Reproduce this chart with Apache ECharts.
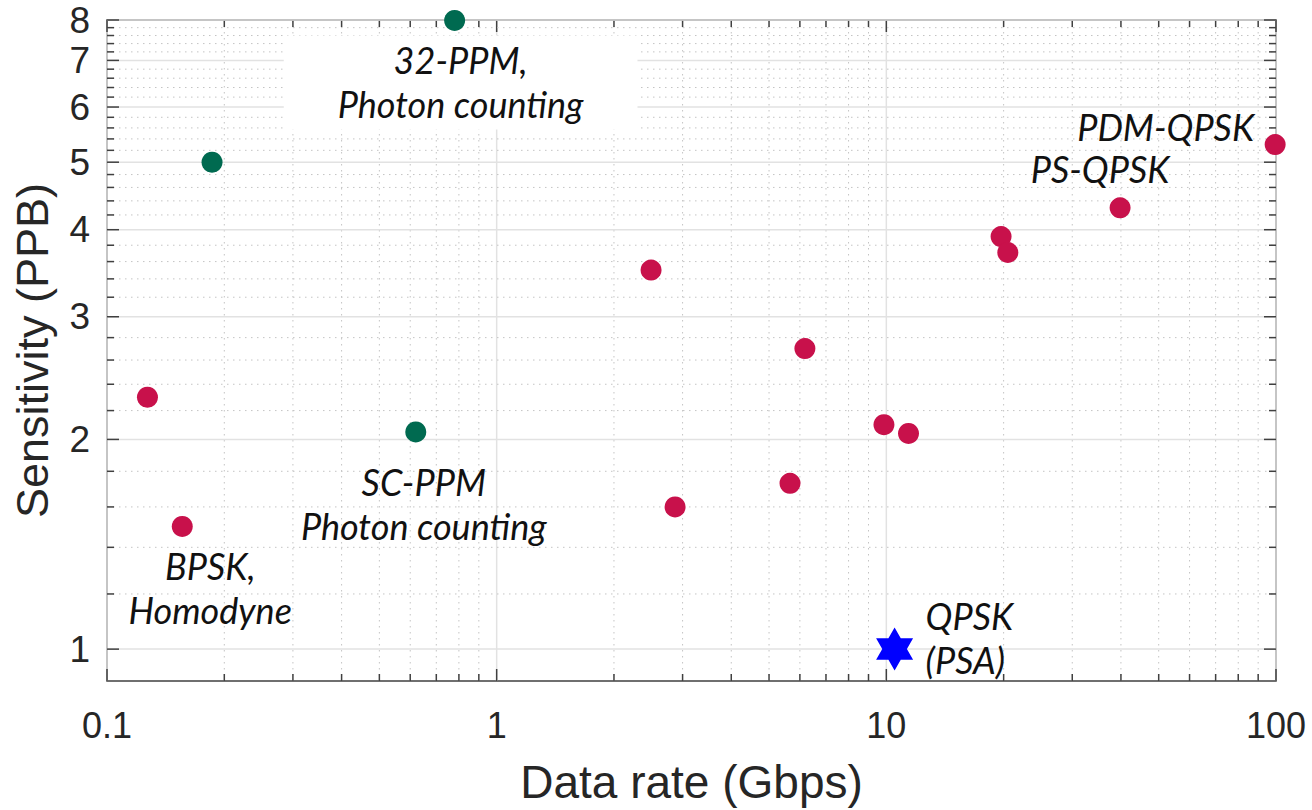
<!DOCTYPE html>
<html>
<head>
<meta charset="utf-8">
<script src="https://cdn.jsdelivr.net/npm/echarts@6/dist/echarts.min.js"></script>
<style>
  html, body { margin: 0; padding: 0; background: #fff; }
  #main { width: 1312px; height: 810px; }
</style>
</head>
<body>
<div id="main"></div>
<script>
// photon counting receivers (green)
var photonRate = [0.78, 0.186, 0.62];
var photonSens = [7.99, 5.0, 2.05];
var photonText = ['32-PPM,\nPhoton counting', '', 'SC-PPM\nPhoton counting'];

// coherent receivers (red)
var coherentRate = [0.127, 0.156, 2.49, 2.87, 5.66, 6.18, 9.86, 11.4, 19.7, 20.5, 39.8, 99.5];
var coherentSens = [2.3, 1.5, 3.5, 1.6, 1.73, 2.7, 2.1, 2.04, 3.91, 3.71, 4.3, 5.3];
var coherentText = ['', 'BPSK,\nHomodyne', '', '', '', '', '', '', '', '', 'PS-QPSK', 'PDM-QPSK'];

// phase sensitive amplifier result (blue star)
var psaRate = [10.5];
var psaSens = [1.0];
var psaText = ['QPSK\n(PSA)'];

// axes
var xRange = [0.1, 100];
var yRange = [0.9, 8];
var xTicks = [0.1, 1, 10, 100];
var yTicks = [1, 2, 3, 4, 5, 6, 7, 8];

// minor ticks: 2..9 per decade on x, 0.2 steps on y
var xMinor = [];
[0.1, 1, 10].forEach(function (d) {
    for (var k = 2; k <= 9; k++) xMinor.push(Number((k * d).toPrecision(3)));
});
var yMinor = [];
for (var i = 6; i < 40; i++) {
    if (i % 5 !== 0) yMinor.push(i / 5);
}

// where each annotation sits relative to its marker
var labelPlace = {
    '32-PPM,\nPhoton counting': { offset: [6, 62], align: 'center', backgroundColor: '#fff', padding: [4, 54, 2, 54] },
    'SC-PPM\nPhoton counting': { offset: [8, 72], align: 'center' },
    'BPSK,\nHomodyne': { offset: [28, 62], align: 'center' },
    'PS-QPSK': { offset: [-20, -39], align: 'center' },
    'PDM-QPSK': { offset: [-21, -18], align: 'right' },
    'QPSK\n(PSA)': { offset: [31, -11], align: 'left' }
};

var textFont = 'Liberation Sans, Arial, sans-serif';
var noteFont = 'Lato, Open Sans, sans-serif';

function points(xs, ys, texts) {
    return xs.map(function (x, i) {
        var item = { value: [x, ys[i]] };
        var p = labelPlace[texts[i]];
        if (p) {
            item.label = {
                show: true,
                formatter: texts[i],
                position: 'inside',
                offset: p.offset,
                align: p.align,
                verticalAlign: 'middle',
                color: '#111',
                fontFamily: noteFont,
                fontStyle: 'italic',
                fontSize: 36,
                lineHeight: 44,
                backgroundColor: p.backgroundColor || 'transparent',
                padding: p.padding || 0
            };
        }
        return item;
    });
}

// grid decoration rows: [x, y, axis(0=x,1=y), major]
var tickRows = [];
xTicks.forEach(function (v) { tickRows.push([v, 1, 0, 1]); });
xMinor.forEach(function (v) { tickRows.push([v, 1, 0, 0]); });
yTicks.forEach(function (v) { tickRows.push([1, v, 1, 1]); });
yMinor.forEach(function (v) { tickRows.push([1, v, 1, 0]); });

var majorGrid = { stroke: '#e2e2e2', lineWidth: 1.5 };
var minorGrid = { stroke: '#c4c4c4', lineWidth: 1, lineDash: [1.5, 4.5] };
var tickStyle = { stroke: '#404040', lineWidth: 1.5 };

function renderTicks(params, api) {
    var cs = params.coordSys;
    var isX = api.value(2) === 0;
    var major = api.value(3) === 1;
    var len = major ? 12 : 7;
    var kids = [];
    if (isX) {
        var px = api.coord([api.value(0), yRange[1]])[0];
        var bottom = cs.y + cs.height;
        kids.push({ type: 'line', shape: { x1: px, y1: cs.y, x2: px, y2: bottom }, style: major ? majorGrid : minorGrid });
        kids.push({ type: 'line', shape: { x1: px, y1: bottom, x2: px, y2: bottom - len }, style: tickStyle });
        kids.push({ type: 'line', shape: { x1: px, y1: cs.y, x2: px, y2: cs.y + len }, style: tickStyle });
    } else {
        var val = api.value(1);
        var py = api.coord([xRange[0], val])[1];
        var right = cs.x + cs.width;
        kids.push({ type: 'line', shape: { x1: cs.x, y1: py, x2: right, y2: py }, style: major ? majorGrid : minorGrid });
        kids.push({ type: 'line', shape: { x1: cs.x, y1: py, x2: cs.x + len, y2: py }, style: tickStyle });
        kids.push({ type: 'line', shape: { x1: right, y1: py, x2: right - len, y2: py }, style: tickStyle });
        if (major) {
            kids.push({
                type: 'text',
                style: {
                    text: String(val), x: cs.x - 17, y: py,
                    align: 'right', verticalAlign: 'middle',
                    fill: '#262626', fontSize: 37, fontFamily: textFont
                }
            });
        }
    }
    return { type: 'group', children: kids };
}

var star = 'path://M0,-1000L288.7,-500L866,-500L577.4,0L866,500L288.7,500L0,1000L-288.7,500L-866,500L-577.4,0L-866,-500L-288.7,-500Z';

var option = {
    backgroundColor: '#fff',
    animation: false,
    grid: {
        left: 107, right: 36, top: 20, bottom: 125,
        show: true, borderColor: '#404040', borderWidth: 1.5
    },
    xAxis: {
        type: 'log',
        logBase: 10,
        min: xRange[0],
        max: xRange[1],
        name: 'Data rate (Gbps)',
        nameLocation: 'middle',
        nameGap: 78,
        nameTextStyle: { fontSize: 46, color: '#262626', fontFamily: textFont },
        axisLine: { show: false },
        axisTick: { show: false },
        splitLine: { show: false },
        axisLabel: {
            fontSize: 36, color: '#262626', fontFamily: textFont, margin: 26,
            formatter: function (v) { return String(Number(v.toPrecision(3))); }
        }
    },
    yAxis: {
        type: 'log',
        logBase: 10,
        min: yRange[0],
        max: yRange[1],
        name: 'Sensitivity (PPB)',
        nameLocation: 'middle',
        nameGap: 52,
        nameTextStyle: { fontSize: 45, color: '#262626', fontFamily: textFont },
        axisLine: { show: false },
        axisTick: { show: false },
        splitLine: { show: false },
        axisLabel: { show: false }
    },
    series: [
        {
            type: 'custom',
            name: 'grid',
            silent: true,
            z: 1,
            dimensions: ['x', 'y', 'axis', 'major'],
            encode: { x: 0, y: 1 },
            data: tickRows,
            renderItem: renderTicks
        },
        {
            type: 'scatter',
            name: 'Photon counting',
            clip: false,
            z: 3,
            symbolSize: 21,
            itemStyle: { color: '#006a50', opacity: 1 },
            data: points(photonRate, photonSens, photonText)
        },
        {
            type: 'scatter',
            name: 'Coherent',
            clip: false,
            z: 3,
            symbolSize: 21,
            itemStyle: { color: '#c8114b', opacity: 1 },
            data: points(coherentRate, coherentSens, coherentText)
        },
        {
            type: 'scatter',
            name: 'PSA',
            clip: false,
            z: 4,
            symbol: star,
            symbolSize: [37, 43],
            itemStyle: { color: '#0000ff', opacity: 1 },
            data: points(psaRate, psaSens, psaText)
        }
    ]
};

var chart = echarts.init(document.getElementById('main'), null, { renderer: 'svg' });
chart.setOption(option);
</script>
</body>
</html>
